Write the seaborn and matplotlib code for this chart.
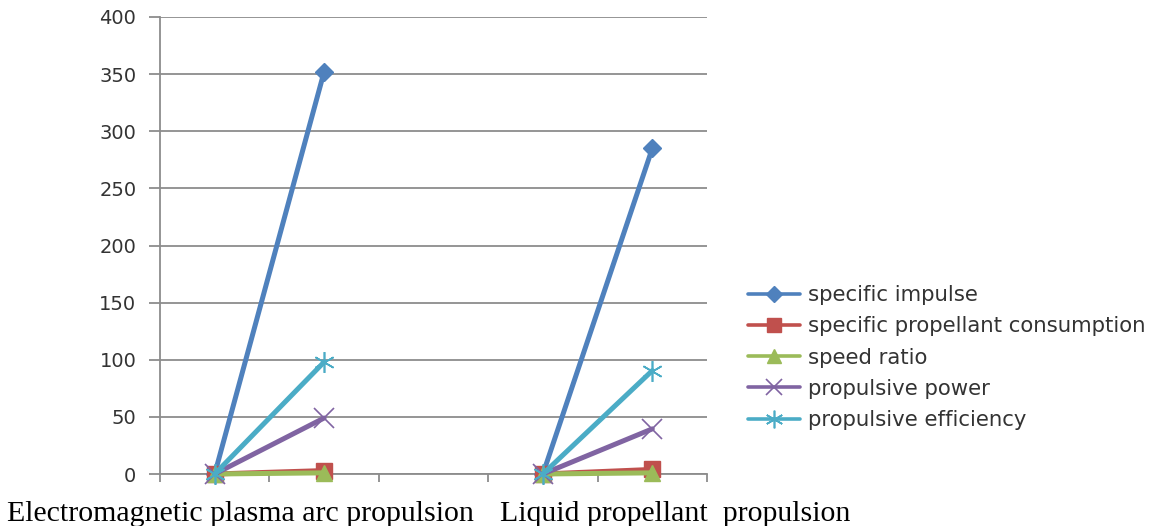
import matplotlib
matplotlib.use("Agg")
import matplotlib.pyplot as plt
import seaborn as sns
import pandas as pd
import numpy as np
from matplotlib.lines import Line2D

# ---- data ----
series_names = ["specific impulse", "specific propellant consumption",
                "speed ratio", "propulsive power", "propulsive efficiency"]
engines = ["Electromagnetic plasma arc propulsion", "Liquid propellant  propulsion"]
# each engine has two category points (start, end)
positions_em = [0, 1]
positions_lp = [3, 4]
specific_impulse = [[0, 352], [0, 285]]
specific_propellant_consumption = [[0, 3], [0, 4]]
speed_ratio = [[0, 1], [0, 1]]
propulsive_power = [[0, 49], [0, 39.5]]
propulsive_efficiency = [[0, 98], [0, 90.5]]
y_ticks = [0, 50, 100, 150, 200, 250, 300, 350, 400]

series_values = [specific_impulse, specific_propellant_consumption, speed_ratio,
                 propulsive_power, propulsive_efficiency]
engine_positions = [positions_em, positions_lp]

rows = []
for name, vals in zip(series_names, series_values):
    for eng, pos, v in zip(engines, engine_positions, vals):
        for p, val in zip(pos, v):
            rows.append({"series": name, "engine": eng, "pos": p, "value": val})
df = pd.DataFrame(rows)

# ---- style ----
colors = ["#4F81BD", "#C0504D", "#9BBB59", "#8064A2", "#4BACC6"]
markers = ["D", "s", "^", "x", (6, 2, 0)]
msizes = [9, 12, 12, 14, 15]
mews = [1, 1, 1, 1.2, 1.2]

sns.set_theme(style="white")
plt.rcParams["font.family"] = ["DejaVu Sans"]

fig = plt.figure(figsize=(11.59, 5.26), dpi=100)
ax = fig.add_axes([160 / 1159, 1 - 474 / 526, (707 - 160) / 1159, (474 - 17) / 526])

for name, c, m, ms, mew in zip(series_names, colors, markers, msizes, mews):
    for eng in engines:
        sub = df[(df.series == name) & (df.engine == eng)]
        sns.lineplot(data=sub, x="pos", y="value", ax=ax, color=c, lw=3.6,
                     marker=m, markersize=ms, markeredgewidth=mew,
                     markeredgecolor=c, estimator=None, sort=False,
                     legend=False, zorder=3, clip_on=False)

ax.set_xlim(-0.5, 4.5)
ax.set_ylim(0, 400)
ax.set_yticks(y_ticks)
ax.set_xticks(np.arange(-0.5, 4.6, 1))
ax.set_xticklabels([])
ax.set_xlabel("")
ax.set_ylabel("")
ax.grid(axis="y", color="#8c8c8c", lw=1.3)
ax.grid(axis="x", visible=False)
ax.set_axisbelow(True)
for s in ["top", "right"]:
    ax.spines[s].set_visible(False)
for s in ["left", "bottom"]:
    ax.spines[s].set_color("#8c8c8c")
    ax.spines[s].set_linewidth(1.3)
ax.tick_params(axis="y", length=8, width=1.3, color="#8c8c8c", labelsize=14,
               labelcolor="#333333", pad=9, direction="out", left=True)
ax.tick_params(axis="x", length=6, width=1.3, color="#8c8c8c", direction="out", bottom=True)

# legend
handles = [Line2D([0], [0], color=c, lw=2.6, marker=m, markersize=ms * 0.85,
                  markeredgecolor=c, markeredgewidth=mew)
           for c, m, ms, mew in zip(colors, markers, msizes, mews)]
fig.legend(handles, series_names, loc="upper left",
           bbox_to_anchor=(748 / 1159, 1 - 285 / 526), frameon=False,
           fontsize=15.3, labelspacing=0.53, handlelength=2.45,
           handletextpad=0.36, borderpad=0, borderaxespad=0,
           labelcolor="#333333")

# category labels beneath
for eng, xc in zip(engines, [240, 675]):
    fig.text(xc / 1159, 1 - 514 / 526, eng, ha="center", va="center",
             fontsize=21.5, family=["Liberation Serif"], color="black")

fig.savefig("out.png", dpi=100)
